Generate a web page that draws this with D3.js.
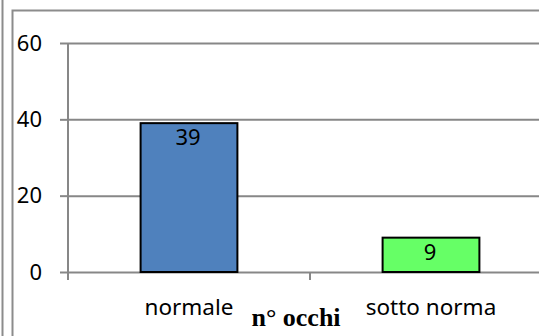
<!DOCTYPE html>
<html>
<head>
<meta charset="utf-8">
<script src="https://cdn.jsdelivr.net/npm/d3@7"></script>
<style>
  body { margin: 0; background: #fff; }
  svg { display: block; }
</style>
</head>
<body>
<div id="vis"></div>
<script>
// data
const categories = ["normale", "sotto norma"];
const values = [39, 9];
const barColors = ["#4f81bd", "#66ff66"];
const yTicks = [0, 20, 40, 60];
const axisTitle = "n° occhi";

let width = 539;
let height = 336;

// plot area (right edge runs past the window like in the original)
let plot = { left: 68, right: 552, top: 43, bottom: 272 };

let svg = d3.select("#vis").append("svg").attr("width", width).attr("height", height)

// outer frame lines
svg.append("line").attr("x1", 2.5).attr("x2", 2.5).attr("y1", 0).attr("y2", height)
    .attr("stroke", "#8c8c8c").attr("stroke-width", 2)
svg.append("path").attr("d", "M12.5," + height + "V10.5H" + (width + 5))
    .attr("fill", "none").attr("stroke", "#8c8c8c").attr("stroke-width", 2)

const xScale = d3.scaleBand().domain(categories).range([plot.left, plot.right])
    .paddingInner(0.6).paddingOuter(0.3)
const yScale = d3.scaleLinear().domain([0, 60]).range([plot.bottom, plot.top])

// gridlines
svg.append("g")
    .attr("transform", "translate(" + plot.left + ",0)")
    .call(d3.axisLeft(yScale).tickValues(yTicks).tickSize(-(plot.right - plot.left)).tickFormat("").tickSizeOuter(0))
    .call(g => g.select(".domain").remove())
    .selectAll("line").attr("stroke", "#878787").attr("stroke-width", 2)

// y axis with ticks and labels
let yAxis = svg.append("g")
    .attr("transform", "translate(" + plot.left + ",0)")
    .call(d3.axisLeft(yScale).tickValues(yTicks).tickSize(8).tickPadding(18).tickSizeOuter(0))
yAxis.select(".domain").remove()
yAxis.selectAll("line").attr("stroke", "#878787").attr("stroke-width", 2)
yAxis.selectAll("text").attr("font-family", "Noto Sans").attr("font-size", 22).attr("fill", "#000")
svg.append("line").attr("x1", plot.left).attr("x2", plot.left)
    .attr("y1", yScale(60)).attr("y2", plot.bottom + 8)
    .attr("stroke", "#878787").attr("stroke-width", 2)

// category tick marks at band edges
const edges = d3.range(categories.length + 1).map(i => plot.left + i * xScale.step())
svg.selectAll(".xtick").data(edges).enter().append("line")
    .attr("x1", d => d).attr("x2", d => d)
    .attr("y1", plot.bottom).attr("y2", plot.bottom + 8)
    .attr("stroke", "#878787").attr("stroke-width", 2)

// bars
svg.selectAll(".bar").data(values).enter().append("rect")
    .attr("x", (d, i) => xScale(categories[i]))
    .attr("y", d => yScale(d))
    .attr("width", xScale.bandwidth())
    .attr("height", d => plot.bottom - yScale(d))
    .attr("fill", (d, i) => barColors[i])
    .attr("stroke", "#000").attr("stroke-width", 2)

// value labels inside the bar tops
svg.selectAll(".lab").data(values).enter().append("text")
    .attr("x", (d, i) => xScale(categories[i]) + xScale.bandwidth() / 2 - 1)
    .attr("y", d => yScale(d) + 22)
    .attr("text-anchor", "middle")
    .attr("font-family", "Noto Sans").attr("font-size", 22)
    .text(d => d)

// category labels
svg.selectAll(".cat").data(categories).enter().append("text")
    .attr("x", d => xScale(d) + xScale.bandwidth() / 2)
    .attr("y", 315)
    .attr("text-anchor", "middle")
    .attr("font-family", "Noto Sans").attr("font-size", 22.5)
    .text(d => d)

// axis title
svg.append("text")
    .attr("x", 296).attr("y", 326)
    .attr("text-anchor", "middle")
    .attr("font-family", "Liberation Serif").attr("font-weight", "bold").attr("font-size", 26)
    .text(axisTitle)
</script>
</body>
</html>
